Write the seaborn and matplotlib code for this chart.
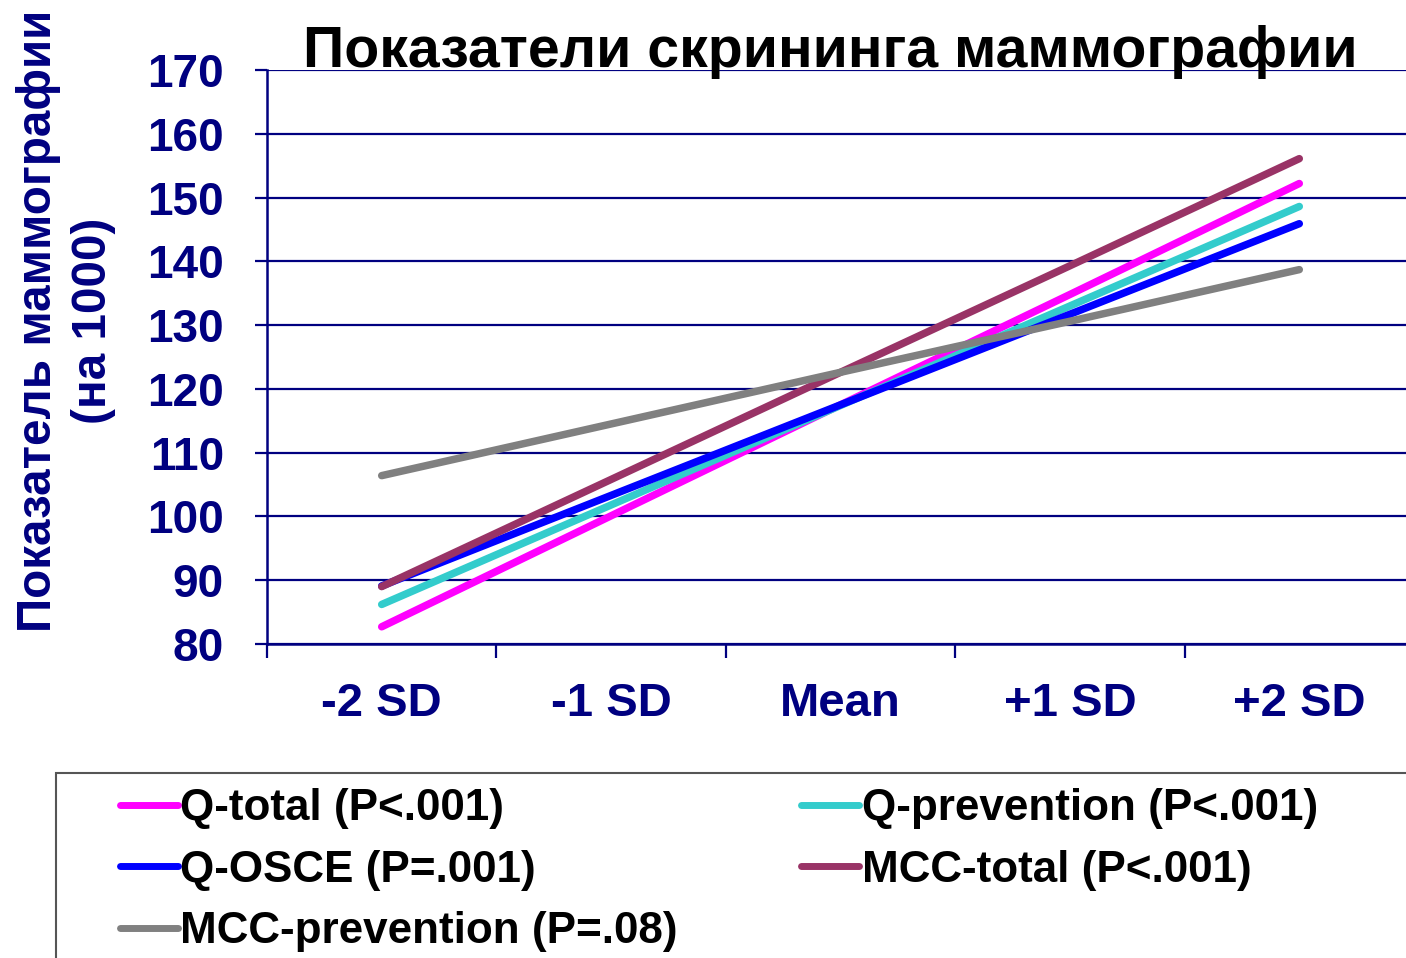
import numpy as np
import pandas as pd
import seaborn as sns
import matplotlib.pyplot as plt
from matplotlib.patches import Rectangle
from matplotlib.lines import Line2D

# categories on the x axis
levels = ['-2 SD', '-1 SD', 'Mean', '+1 SD', '+2 SD']

# rate per 1000
q_total = [82.7, 100.1, 117.5, 134.8, 152.2]
q_prevention = [86.2, 101.8, 117.4, 133.0, 148.6]
q_osce = [89.1, 103.3, 117.5, 131.7, 145.9]
mcc_total = [89.0, 105.8, 122.6, 139.3, 156.1]
mcc_prevention = [106.4, 114.5, 122.6, 130.6, 138.7]

series = ['Q-total (P<.001)', 'Q-prevention (P<.001)', 'Q-OSCE (P=.001)',
          'MCC-total (P<.001)', 'MCC-prevention (P=.08)']
colors = ['#FF00FF', '#33CCCC', '#0000FF', '#993366', '#808080']

df = pd.DataFrame({
    'level': levels * 5,
    'value': q_total + q_prevention + q_osce + mcc_total + mcc_prevention,
    'series': np.repeat(series, len(levels)),
})

sns.set_style('white')
plt.rcParams['font.family'] = ['Liberation Sans', 'DejaVu Sans']
plt.rcParams['font.weight'] = 'bold'
navy = '#000080'

fig = plt.figure(figsize=(14.06, 9.58), dpi=100)
ax = fig.add_axes([267 / 1406, 314 / 958, 1147 / 1406, 574 / 958])

sns.lineplot(data=df, x='level', y='value', hue='series', hue_order=series,
             palette=colors, sort=False, linewidth=5.4, ax=ax, legend=False)
for ln in ax.lines:
    ln.set_solid_capstyle('round')

ax.set_xlim(-0.5, 4.5)
ax.set_ylim(80, 170)
ax.set_yticks(np.arange(80, 171, 10))
ax.set_xticks(range(5))
ax.set_xticklabels(levels)
ax.set_xticks(np.arange(-0.5, 4.6, 1), minor=True)
ax.set_xlabel('')
ax.set_ylabel('')

ax.grid(axis='y', color=navy, linewidth=1.6)
ax.grid(axis='x', visible=False)
for s in ['top', 'right']:
    ax.spines[s].set_visible(False)
for s in ['left', 'bottom']:
    ax.spines[s].set_color(navy)
    ax.spines[s].set_linewidth(1.8)

ax.tick_params(axis='y', direction='out', length=9, width=1.6, color=navy,
               labelcolor=navy, labelsize=33, pad=22, left=True)
ax.tick_params(axis='x', which='major', length=0, labelcolor=navy,
               labelsize=34, pad=27)
ax.tick_params(axis='x', which='minor', direction='out', length=10,
               width=1.6, color=navy, bottom=True)

fig.text(830 / 1406, 1 - 67 / 958, 'Показатели скрининга маммографии',
         ha='center', va='baseline', fontsize=41.2, fontweight='bold',
         color='black')
fig.text(66 / 1406, 1 - 321 / 958, 'Показатель маммографии\n(на 1000)',
         ha='center', va='center', rotation=90, fontsize=34.3,
         fontweight='bold', color=navy, multialignment='center',
         linespacing=1.3)

# legend box running off the right and bottom edge
fig.patches.append(Rectangle((56 / 1406, -0.1), 1.0, 1 - 773 / 958 + 0.1,
                             transform=fig.transFigure, fill=False,
                             edgecolor='#555555', linewidth=1.5))

order = [0, 2, 4, 1, 3]
handles = [Line2D([], [], color=colors[i], linewidth=5,
                  solid_capstyle='round') for i in order]
labels = [series[i] for i in order]
fig.legend(handles, labels, ncol=2, loc='upper left',
           bbox_to_anchor=(120 / 1406, 1 - 788 / 958), frameon=False,
           prop={'family': 'Liberation Sans', 'weight': 'bold', 'size': 31.7},
           labelcolor='black',
           handlelength=1.32, handletextpad=0.05, columnspacing=2.8,
           labelspacing=0.47, borderpad=0, borderaxespad=0)

fig.savefig('out.png', dpi=100)
